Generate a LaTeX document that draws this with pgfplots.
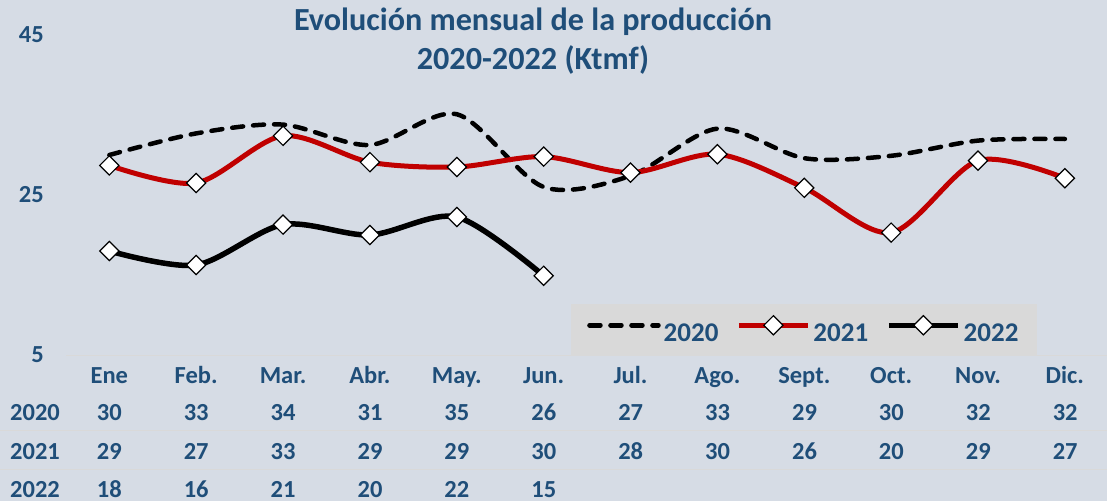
\documentclass[border=0pt]{standalone}
\usepackage{pgfplots}
\pgfplotsset{compat=1.18}
\usepackage{fontspec}
\setmainfont{Carlito}
\definecolor{bg}{HTML}{D6DCE5}
\definecolor{txt}{HTML}{1F4E79}
\definecolor{lg}{HTML}{D9D9D9}
\definecolor{red21}{HTML}{C00000}
\begin{document}
\begin{tikzpicture}
\useasboundingbox (0pt,0pt) rectangle (1107pt,501pt);
\fill[bg] (0pt,0pt) rectangle (1107pt,501pt);
\draw[lg, line width=1pt] (66pt,145.3pt) -- (1107pt,145.3pt);
\draw[lg, line width=1pt] (0pt,70.5pt) -- (1107pt,70.5pt);
\draw[lg, line width=1pt] (0pt,31.5pt) -- (1107pt,31.5pt);
\begin{axis}[
  at={(65.9pt,146pt)}, anchor=south west, scale only axis,
  width=1042.4pt, height=320pt,
  xmin=-0.5, xmax=11.5, ymin=5, ymax=45,
  clip=false,
  axis line style={draw=none},
  major tick length=0pt,
  xtick={0,...,11},
  xticklabels={Ene,Feb.,Mar.,Abr.,May.,Jun.,Jul.,Ago.,Sept.,Oct.,Nov.,Dic.},
  ytick={5,25,45}, yticklabels={5,25,45},
  tick label style={font=\fontsize{24.5}{24.5}\selectfont\bfseries, text=txt},
  xticklabel style={anchor=base, yshift=-28pt, inner sep=0pt},
  yticklabel style={anchor=east, inner sep=0pt, xshift=-21.9pt},
  legend columns=3,
  legend image code/.code={%
    \draw[#1, mark repeat=2, mark phase=2] plot coordinates {(0pt,8.5pt) (34.5pt,8.5pt) (69pt,8.5pt)};
  },
  legend style={
    at={(0.7084,0.0797)}, anchor=center,
    draw=none, fill=lg,
    font=\fontsize{27}{27}\selectfont\bfseries, text=txt,
    inner xsep=16pt, inner ysep=12pt,
    nodes={inner xsep=3pt, inner ysep=0pt},
    /tikz/every even column/.append style={column sep=15pt},
  },
  every axis plot/.append style={smooth},
  dmark/.style={mark=square*, mark size=6.8pt,
    mark options={rotate=45, fill=white, draw=black, line width=1.2pt, solid}},
]
\addplot[black, line width=4.5pt, line cap=round, dash pattern=on 11pt off 10pt, mark=none]
  coordinates {(0,30.0) (1,32.7) (2,33.8) (3,31.25) (4,35.1) (5,26.0) (6,27.4) (7,33.3) (8,29.6) (9,29.9) (10,31.8) (11,32.0)};
\addlegendentry{2020}
\addplot[red21, line width=5pt, dmark]
  coordinates {(0,28.7) (1,26.5) (2,32.4) (3,29.1) (4,28.5) (5,29.8) (6,27.8) (7,30.1) (8,25.9) (9,20.3) (10,29.3) (11,27.1)};
\addlegendentry{2021}
\addplot[black, line width=5.5pt, dmark]
  coordinates {(0,18.0) (1,16.25) (2,21.3) (3,20.0) (4,22.25) (5,14.9)};
\addlegendentry{2022}
\end{axis}
\node[anchor=base, font=\fontsize{32.2}{32.2}\selectfont\bfseries, text=txt] at (533pt,470.3pt) {Evolución mensual de la producción};
\node[anchor=base, font=\fontsize{32.2}{32.2}\selectfont\bfseries, text=txt] at (533pt,431.7pt) {2020-2022 (Ktmf)};
\begin{scope}[every node/.style={anchor=base, font=\fontsize{24.5}{24.5}\selectfont\bfseries, text=txt}]
\node at (35pt,81pt) {2020};
\node at (35pt,42pt) {2021};
\node at (35pt,4pt) {2022};
\foreach \v [count=\i from 0] in {30,33,34,31,35,26,27,33,29,30,32,32}
  \node at ({(109.3+86.9*\i)*1pt},81pt) {\v};
\foreach \v [count=\i from 0] in {29,27,33,29,29,30,28,30,26,20,29,27}
  \node at ({(109.3+86.9*\i)*1pt},42pt) {\v};
\foreach \v [count=\i from 0] in {18,16,21,20,22,15}
  \node at ({(109.3+86.9*\i)*1pt},4pt) {\v};
\end{scope}
\end{tikzpicture}
\end{document}
